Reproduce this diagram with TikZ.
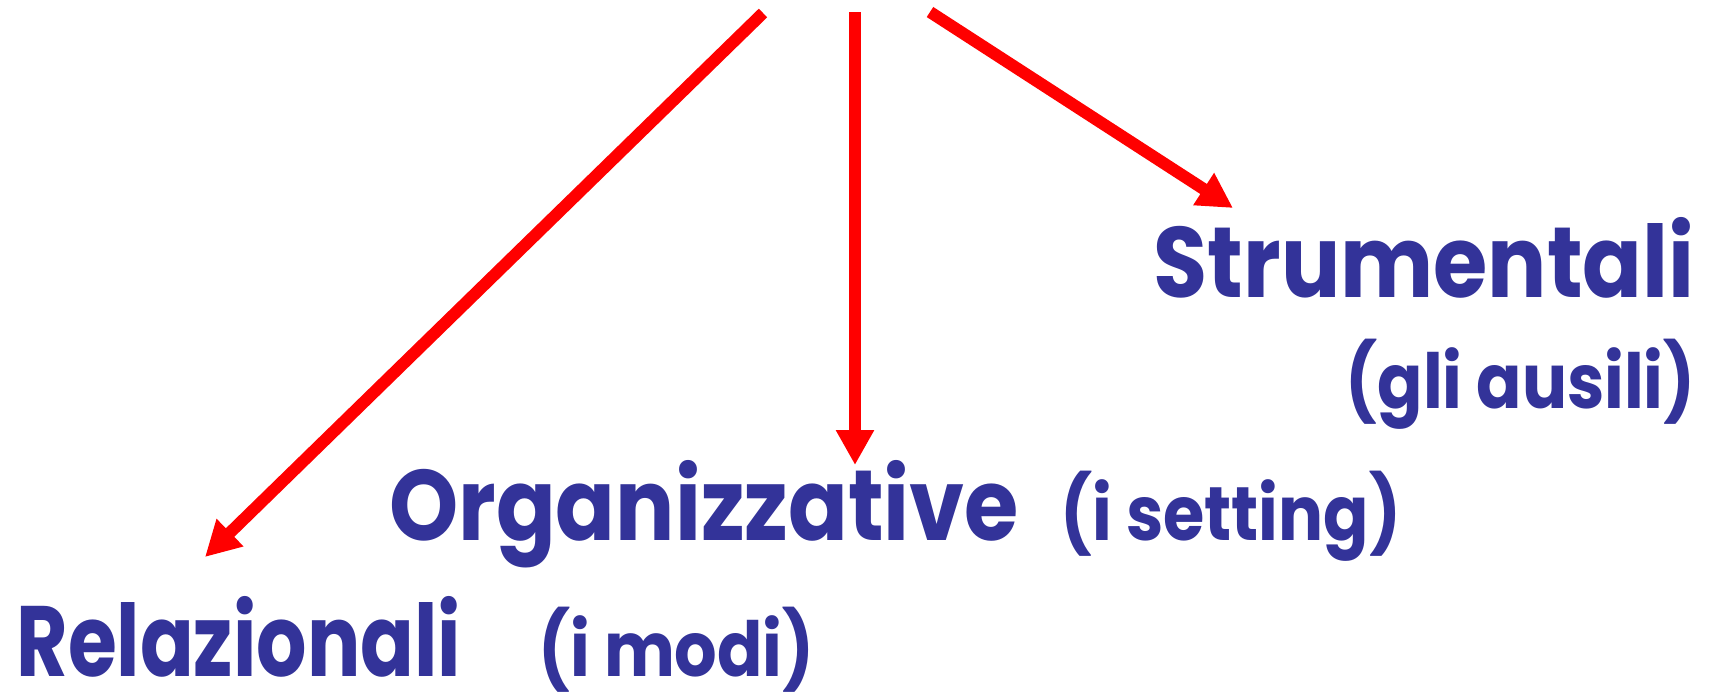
\documentclass[tikz,border=0pt]{standalone}
\usepackage{xcolor}
\usepackage{fontspec}
\newfontfamily\labelfont{Poppins}[FakeStretch=0.88]
\usetikzlibrary{arrows.meta, positioning}
\definecolor{labelblue}{HTML}{333399}

\begin{document}
\begin{tikzpicture}[x=0.5pt, y=-0.5pt,
    link/.style={-{Triangle[width=18pt, length=17.5pt]}, red, line width=6pt},
    label/.style={inner sep=0pt, text=labelblue, font=\labelfont\fontsize{50}{60}\selectfont\bfseries},
    sublabel/.style={inner sep=0pt, text=labelblue, font=\labelfont\fontsize{38}{46}\selectfont\bfseries}]
    \useasboundingbox (0,0) rectangle (1710,693);

    % start and tip points of the three arrows
    \coordinate (relstart) at (763,13);
    \coordinate (relend) at (205,557);
    \coordinate (orgstart) at (855,12);
    \coordinate (orgend) at (855,465);
    \coordinate (strstart) at (930,12);
    \coordinate (strend) at (1233,208);

    \node [label, anchor=base east] (str) at (1695,297) {Strumentali};
    \node [sublabel, anchor=base east] (strsub) at (1696,408) {(gli ausili)};
    \node [label, anchor=base west] (org) at (389,540) {Organizzative};
    \node [sublabel, anchor=base west] (orgsub) at (1060,540) {(i setting)};
    \node [label, anchor=base west] (rel) at (16,676) {\scalebox{0.9}[1]{Relazionali}};
    \node [sublabel, anchor=base west] (relsub) at (538,676) {(i modi)};

    \draw [link] (relstart) -- (relend);
    \draw [link] (orgstart) -- (orgend);
    \draw [link] (strstart) -- (strend);
\end{tikzpicture}
\end{document}
